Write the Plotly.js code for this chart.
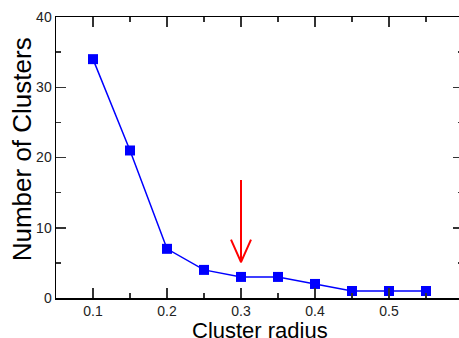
<!DOCTYPE html>
<html>
<head>
<meta charset="utf-8">
<script src="https://cdn.plot.ly/plotly-3.0.1.min.js"></script>
<style>
html, body { margin: 0; padding: 0; overflow: hidden; background: #fff; }
#chart { width: 470px; height: 338px; }
</style>
</head>
<body>
<div id="chart"></div>
<script>
// Data
const clusterRadius = [0.1, 0.15, 0.2, 0.25, 0.3, 0.35, 0.4, 0.45, 0.5, 0.55];
const numClusters   = [34, 21, 7, 4, 3, 3, 2, 1, 1, 1];

// Red arrow marking the chosen radius (data coordinates)
const arrowShaftX = [0.3, 0.3];
const arrowShaftY = [16.8, 5.1];
const arrowHeadX  = [0.2865, 0.3, 0.3135];
const arrowHeadY  = [8.3, 5.1, 8.3];

const xTickVals = [0.1, 0.2, 0.3, 0.4, 0.5];
const xTickText = ['0.1', '0.2', '0.3', '0.4', '0.5'];
const yTickVals = [0, 10, 20, 30, 40];
const yTickText = ['0', '10', '20', '30', '40'];
const xTitle = 'Cluster radius';
const yTitle = 'Number of Clusters';

const traces = [
  {
    x: clusterRadius, y: numClusters, type: 'scatter', mode: 'lines+markers',
    line: { color: '#0000ff', width: 1.5 },
    marker: { symbol: 'square', size: 10, color: '#0000ff' },
    hoverinfo: 'none', showlegend: false
  },
  {
    x: arrowShaftX, y: arrowShaftY, type: 'scatter', mode: 'lines',
    line: { color: '#ff0000', width: 2 }, hoverinfo: 'none', showlegend: false
  },
  {
    x: arrowHeadX, y: arrowHeadY, type: 'scatter', mode: 'lines',
    line: { color: '#ff0000', width: 2 }, hoverinfo: 'none', showlegend: false
  }
];

const fam = 'Liberation Sans, Arial, sans-serif';
const tickFont = { family: fam, size: 14, color: '#222' };

const layout = {
  width: 470, height: 338,
  margin: { l: 56, r: 7, t: 17, b: 40, pad: 0 },
  paper_bgcolor: '#fff', plot_bgcolor: '#fff',
  showlegend: false,
  xaxis: {
    range: [0.05, 0.6], tickvals: xTickVals, ticktext: xTickText,
    ticks: 'inside', ticklen: 10, tickwidth: 1.5, tickcolor: '#333',
    minor: { tickvals: [0.15, 0.25, 0.35, 0.45, 0.55], ticks: 'inside', ticklen: 5, tickwidth: 1.5, tickcolor: '#333' },
    showline: true, linecolor: '#000', linewidth: 1.5, mirror: 'ticks',
    showgrid: false, zeroline: false, tickfont: tickFont
  },
  yaxis: {
    range: [0, 40], tickvals: yTickVals, ticktext: yTickText,
    ticks: 'inside', ticklen: 10, tickwidth: 1.5, tickcolor: '#333',
    minor: { tickvals: [5, 15, 25, 35], ticks: 'inside', ticklen: 5, tickwidth: 1.5, tickcolor: '#333' },
    showline: true, linecolor: '#000', linewidth: 1.5, mirror: 'ticks',
    showgrid: false, zeroline: false, tickfont: tickFont
  },
  annotations: [
    {
      text: xTitle, xref: 'paper', yref: 'paper', x: 0.5, y: -0.116,
      xanchor: 'center', yanchor: 'middle', showarrow: false, borderpad: 0,
      font: { family: fam, size: 22, color: '#000' }
    },
    {
      text: yTitle, xref: 'paper', yref: 'paper', x: -0.083, y: 0.53,
      xanchor: 'center', yanchor: 'middle', showarrow: false, textangle: -90, borderpad: 0,
      font: { family: fam, size: 26, color: '#000' }
    }
  ]
};

Plotly.newPlot('chart', traces, layout, { displayModeBar: false, staticPlot: true });
</script>
</body>
</html>
